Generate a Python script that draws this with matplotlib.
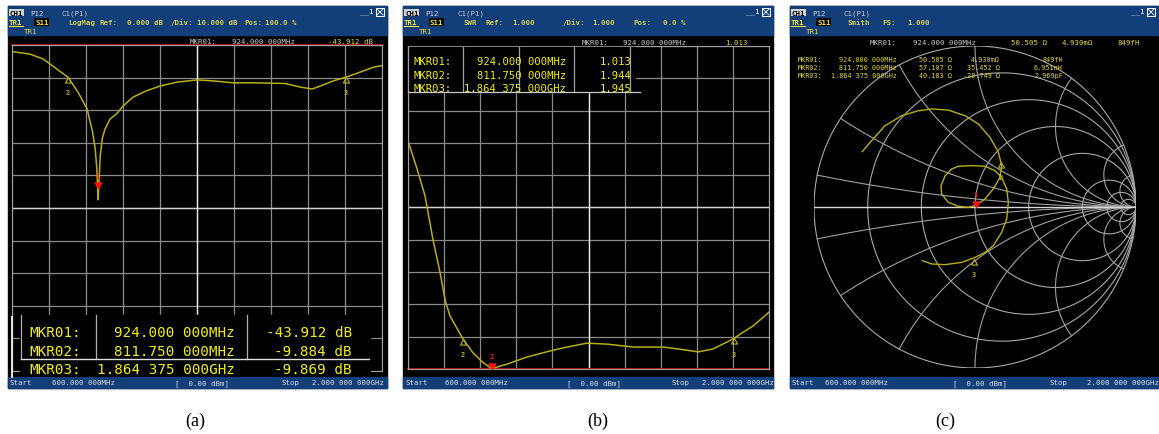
import numpy as np
import matplotlib.pyplot as plt

W, H = 1159, 435
MONO = 'DejaVu Sans Mono'
BLUE = '#123f7a'
TRACE = '#b8ae12'
YEL = '#f2ee10'
GRID = '#8a8a8a'

# sweep, MHz
f_start, f_stop = 600.0, 2000.0

# (a) S11 LogMag, dB
freq_a = [600, 668, 718, 770, 812, 850, 884, 905, 915, 921, 924, 926, 929, 934,
          942, 952, 971, 997, 1020, 1058, 1110, 1160, 1224, 1300, 1360, 1436,
          1512, 1633, 1690, 1736, 1766, 1816, 1864, 1918, 1968, 2000]
s11_db = [-2.0, -2.8, -4.3, -7.4, -9.9, -14.5, -19.6, -26.7, -32.0, -38.0, -44.0,
          -47.5, -42.0, -34.0, -28.5, -25.8, -22.7, -21.0, -18.7, -16.0, -14.0,
          -12.6, -11.4, -10.7, -11.0, -11.6, -11.6, -11.8, -12.9, -13.5, -12.6,
          -11.0, -9.87, -8.3, -6.8, -6.3]

# (b) SWR
freq_b = [600, 635, 666, 697, 724, 745, 763, 812, 852, 891, 924, 984, 1061, 1151,
          1217, 1294, 1372, 1473, 1589, 1667, 1725, 1783, 1864, 1888, 1938, 2000]
swr = [8.06, 7.2, 6.36, 5.0, 4.0, 3.1, 2.64, 1.944, 1.5, 1.2, 1.013, 1.15, 1.37,
       1.56, 1.68, 1.8, 1.77, 1.68, 1.68, 1.6, 1.53, 1.62, 1.945, 2.08, 2.33, 2.76]

# (c) Smith chart, reflection coefficient along the sweep
gamma_re = [-0.700, -0.642, -0.559, -0.455, -0.352, -0.269, -0.166, -0.062, 0.021,
            0.093, 0.145, 0.166, 0.155, 0.114, 0.062, 0.010, -0.041, -0.104, -0.166,
            -0.207, -0.211, -0.186, -0.145, -0.104, -0.021, 0.062, 0.124, 0.166,
            0.197, 0.207, 0.197, 0.166, 0.114, 0.062, 0.000, -0.083, -0.186, -0.269,
            -0.327]
gamma_im = [0.344, 0.412, 0.505, 0.567, 0.598, 0.609, 0.602, 0.567, 0.516, 0.433,
            0.340, 0.257, 0.184, 0.112, 0.050, 0.012, -0.002, 0.004, 0.029, 0.081,
            0.132, 0.194, 0.236, 0.253, 0.257, 0.253, 0.226, 0.184, 0.112, 0.029,
            -0.075, -0.157, -0.240, -0.282, -0.313, -0.344, -0.358, -0.354, -0.333]

# markers
mkr_freq = [924.0, 811.75, 1864.375]
mkr_freq_txt = ['924.000 000MHz', '811.750 000MHz', '1.864 375 000GHz']
mkr_db = [-43.912, -9.884, -9.869]
mkr_swr = [1.013, 1.944, 1.945]
mkr_R = [50.505, 57.107, 40.183]
mkr_X = [0.00493, 35.452, -28.749]
mkr_X_txt = ['4.930m\u03a9', '35.452 \u03a9', '-28.749 \u03a9']
mkr_LC_txt = ['849fH', '6.951nH', '2.969pF']

smith_r = [0.2, 0.5, 1, 2, 5, 10, 20]
smith_x = [0.1, 0.3, 0.6, 1, 2, 5, 10]

fig = plt.figure(figsize=(W / 100, H / 100), dpi=100)
fig.patch.set_facecolor('white')


def px_axes(x0, y0, x1, y1, z=1):
    ax = fig.add_axes([x0 / W, 1 - y1 / H, (x1 - x0) / W, (y1 - y0) / H])
    ax.set_zorder(z)
    return ax


bg = px_axes(0, 0, W, H, z=0)
fg = px_axes(0, 0, W, H, z=3)
for a in (bg, fg):
    a.set_xlim(0, W)
    a.set_ylim(H, 0)
    a.axis('off')
    a.patch.set_alpha(0)


def txt(ax, x, y, s, size=5.3, color='#d8d8d8', ha='left', **kw):
    ax.text(x, y, s, fontsize=size, color=color, ha=ha, va='center',
            family=MONO, **kw)


def screen(x0, x1, items, bottom):
    bg.add_patch(plt.Rectangle((x0, 7), x1 - x0, 382, color='black'))
    bg.add_patch(plt.Rectangle((x0, 7), x1 - x0, 29, color=BLUE))
    bg.add_patch(plt.Rectangle((x0, 378), x1 - x0, 11, color=BLUE))
    # header
    bg.text(x0 + 2, 13.5, 'CH1', fontsize=5.3, family=MONO, color='black',
            va='center', fontweight='bold',
            bbox=dict(boxstyle='square,pad=0.1', fc='#d0d0d0', ec='none'))
    txt(bg, x0 + 22, 13.5, 'P12', color='#d0d0d0')
    txt(bg, x0 + 54, 13.5, 'C1(P1)', color='#c8c8c8')
    txt(bg, x0 + 1, 23, 'TR1', color='#f0e040', fontweight='bold')
    bg.plot([x0 + 1, x0 + 15], [27, 27], color='#f0e040', lw=0.8)
    bg.text(x0 + 27, 23, 'S11', fontsize=5.3, family=MONO, color='#f0e040',
            va='center', fontweight='bold',
            bbox=dict(boxstyle='square,pad=0.1', fc='black', ec='none'))
    txt(bg, x0 + 16, 31.5, 'TR1', color='#f0e040')
    for x, s in items:
        txt(bg, x, 23, s, color='#d8cc50', fontweight='bold')
    txt(bg, x1 - 27, 12, '__1', color='white')
    bg.add_patch(plt.Rectangle((x1 - 11, 9), 8, 8, fc=BLUE, ec='white', lw=0.7))
    bg.plot([x1 - 10, x1 - 4], [10, 16], color='white', lw=0.6)
    bg.plot([x1 - 10, x1 - 4], [16, 10], color='white', lw=0.6)
    # status bar
    xs, xf, xp, xst, xsf = bottom
    txt(bg, xs, 383.5, 'Start', color='#e0e0e0')
    txt(bg, xf, 383.5, '600.000 000MHz', color='#e0e0e0')
    txt(bg, xp, 383.5, '[  0.00 dBm]', color='#e0e0e0')
    txt(bg, xst, 383.5, 'Stop', color='#e0e0e0')
    txt(bg, xsf, 383.5, '2.000 000 000GHz', color='#e0e0e0')


screen(8, 387, [(68, 'LogMag'), (100, 'Ref:'), (127, '0.000 dB'), (171, '/Div:'),
                (197, '10.000 dB'), (244, 'Pos:'), (265, '100.0 %')],
       (9, 52, 175, 282, 312))
screen(403, 773, [(463, 'SWR'), (485, 'Ref:'), (512, '1.000'), (563, '/Div:'),
                  (592, '1.000'), (633, 'Pos:'), (663, '0.0 %')],
       (405, 445, 567, 672, 702))
screen(790, 1158, [(848, 'Smith'), (882, 'FS:'), (907, '1.000')],
       (792, 825, 953, 1050, 1087))

up_tri = [(0, 0), (-0.55, -1), (0.55, -1), (0, 0)]
down_tri = [(0, 0), (-0.6, 1), (0.6, 1), (0, 0)]


def markers(ax, xs, ys):
    for i, (x, y) in enumerate(zip(xs, ys)):
        if i == 0:
            ax.plot(x, y, marker=down_tri, ms=8, color='#ff1010', mec='#ff1010',
                    clip_on=False, zorder=5)
            ax.annotate('1', (x, y), xytext=(0, 9), textcoords='offset points',
                        color='#ff1010', fontsize=5, family=MONO, ha='center',
                        va='center', fontweight='bold')
        else:
            ax.plot(x, y, marker=up_tri, ms=8, mfc='none', mec=TRACE, mew=0.8,
                    clip_on=False, zorder=5)
            ax.annotate(str(i + 1), (x, y), xytext=(0, -11),
                        textcoords='offset points', color=TRACE, fontsize=5,
                        family=MONO, ha='center', va='center', fontweight='bold')


def grid_axes(x0, y0, x1, y1, lo, hi):
    ax = px_axes(x0, y0, x1, y1, z=1)
    ax.patch.set_alpha(0)
    ax.set_xlim(f_start, f_stop)
    ax.set_ylim(lo, hi)
    ax.set_xticks(np.linspace(f_start, f_stop, 11))
    ax.set_yticks(np.linspace(lo, hi, 11))
    ax.grid(True, color=GRID, lw=0.9)
    ax.tick_params(length=0, labelbottom=False, labelleft=False)
    for s in ax.spines.values():
        s.set_color('#a0a0a0')
    ax.axvline((f_start + f_stop) / 2, color='#e8e8e8', lw=1)
    ax.axhline((lo + hi) / 2, color='#d0d0d0', lw=1)
    return ax


# (a)
axa = grid_axes(12, 46, 382, 372, -100, 0)
axa.axhline(0, color='#c01010', lw=1.3, clip_on=False)
axa.plot(freq_a, s11_db, color=TRACE, lw=1.1)
markers(axa, mkr_freq, mkr_db)

# (b)
axb = grid_axes(408, 47, 769, 370, 1, 11)
axb.axhline(1, color='#c01010', lw=1.3, clip_on=False)
axb.plot(freq_b, swr, color=TRACE, lw=1.1)
markers(axb, mkr_freq, mkr_swr)

# (c)
axc = px_axes(814, 47, 1136, 369, z=1)
axc.patch.set_alpha(0)
axc.set_xlim(-1, 1)
axc.set_ylim(-1, 1)
axc.axis('off')
t = np.concatenate([[0], np.logspace(-3, 4, 700)])
tt = np.concatenate([-t[::-1], t])
for r in [0] + smith_r:
    g = (r + 1j * tt - 1) / (r + 1j * tt + 1)
    axc.plot(g.real, g.imag, color='#a8a8a8', lw=0.8)
for x in smith_x:
    for s in (1, -1):
        g = (t + 1j * s * x - 1) / (t + 1j * s * x + 1)
        axc.plot(g.real, g.imag, color='#a0a0a0', lw=0.8)
axc.plot([-1, 1], [0, 0], color='#d8d8d8', lw=1.0)
axc.plot(gamma_re, gamma_im, color=TRACE, lw=1.0)
z = (np.array(mkr_R) + 1j * np.array(mkr_X)) / 50.0
gm = (z - 1) / (z + 1)
markers(axc, gm.real, gm.imag)

# marker readouts
# top line
txt(fg, 190, 42, 'MKR01:', color='#c8c8c8')
txt(fg, 232, 42, mkr_freq_txt[0], color='#c8c8c8')
txt(fg, 328, 42, f'{mkr_db[0]:.3f} dB', color='#e8d830')
txt(fg, 582, 43, 'MKR01:', color='#c8c8c8')
txt(fg, 623, 43, mkr_freq_txt[0], color='#c8c8c8')
txt(fg, 725, 43, f'{mkr_swr[0]:.3f}', color='#e8d830')
txt(fg, 870, 43, 'MKR01:', color='#c8c8c8')
txt(fg, 913, 43, mkr_freq_txt[0], color='#c8c8c8')
txt(fg, 1011, 43, f'{mkr_R[0]:.3f} \u03a9', color='#e8d830')
txt(fg, 1062, 43, mkr_X_txt[0], color='#e8d830')
txt(fg, 1118, 43, mkr_LC_txt[0], color='#e8d830')

# (a) table
fg.add_patch(plt.Rectangle((20, 316), 350, 60, color='black'))
for x in (21, 96, 247):
    fg.plot([x, x], [316, 360], color='#b0b0b0', lw=0.9)
fg.plot([21, 369], [360, 360], color='#e0e0e0', lw=1.0)
fg.plot([12, 12], [318, 378], color='#e8e8e8', lw=1.4)
for i, y in enumerate([333, 352, 370]):
    txt(fg, 29, y, f'MKR0{i + 1}:', size=10.3, color=YEL)
    txt(fg, 235, y, mkr_freq_txt[i], size=10.3, color=YEL, ha='right')
    txt(fg, 352, y, f'{mkr_db[i]:.3f} dB', size=10.3, color=YEL, ha='right')

# (b) table
fg.add_patch(plt.Rectangle((408, 48), 227, 45, color='black'))
for x in (408, 463, 519, 574, 630):
    fg.plot([x, x], [48, 93], color='#a0a0a0', lw=0.9)
fg.plot([408, 640], [93, 93], color='#c8c8c8', lw=0.9)
for i, y in enumerate([62, 76, 89]):
    txt(fg, 414, y, f'MKR0{i + 1}:', size=7.6, color=YEL)
    txt(fg, 566, y, mkr_freq_txt[i], size=7.6, color=YEL, ha='right')
    txt(fg, 632, y, f'{mkr_swr[i]:.3f}', size=7.6, color=YEL, ha='right')

# (c) table
for i, y in enumerate([60, 68, 76]):
    txt(fg, 798, y, f'MKR0{i + 1}:', size=4.9, color='#e8d830')
    txt(fg, 897, y, mkr_freq_txt[i], size=4.9, color='#e8d830', ha='right')
    txt(fg, 952, y, f'{mkr_R[i]:.3f} \u03a9', size=4.9, color='#e8d830', ha='right')
    txt(fg, 1000, y, mkr_X_txt[i], size=4.9, color='#e8d830', ha='right')
    txt(fg, 1063, y, mkr_LC_txt[i], size=4.9, color='#e8d830', ha='right')

for x, s in [(195, '(a)'), (598, '(b)'), (945, '(c)')]:
    fg.text(x, 421, s, fontsize=13, family='Liberation Serif', ha='center',
            va='center', color='black')

fig.savefig('out.png', dpi=100, facecolor='white')
